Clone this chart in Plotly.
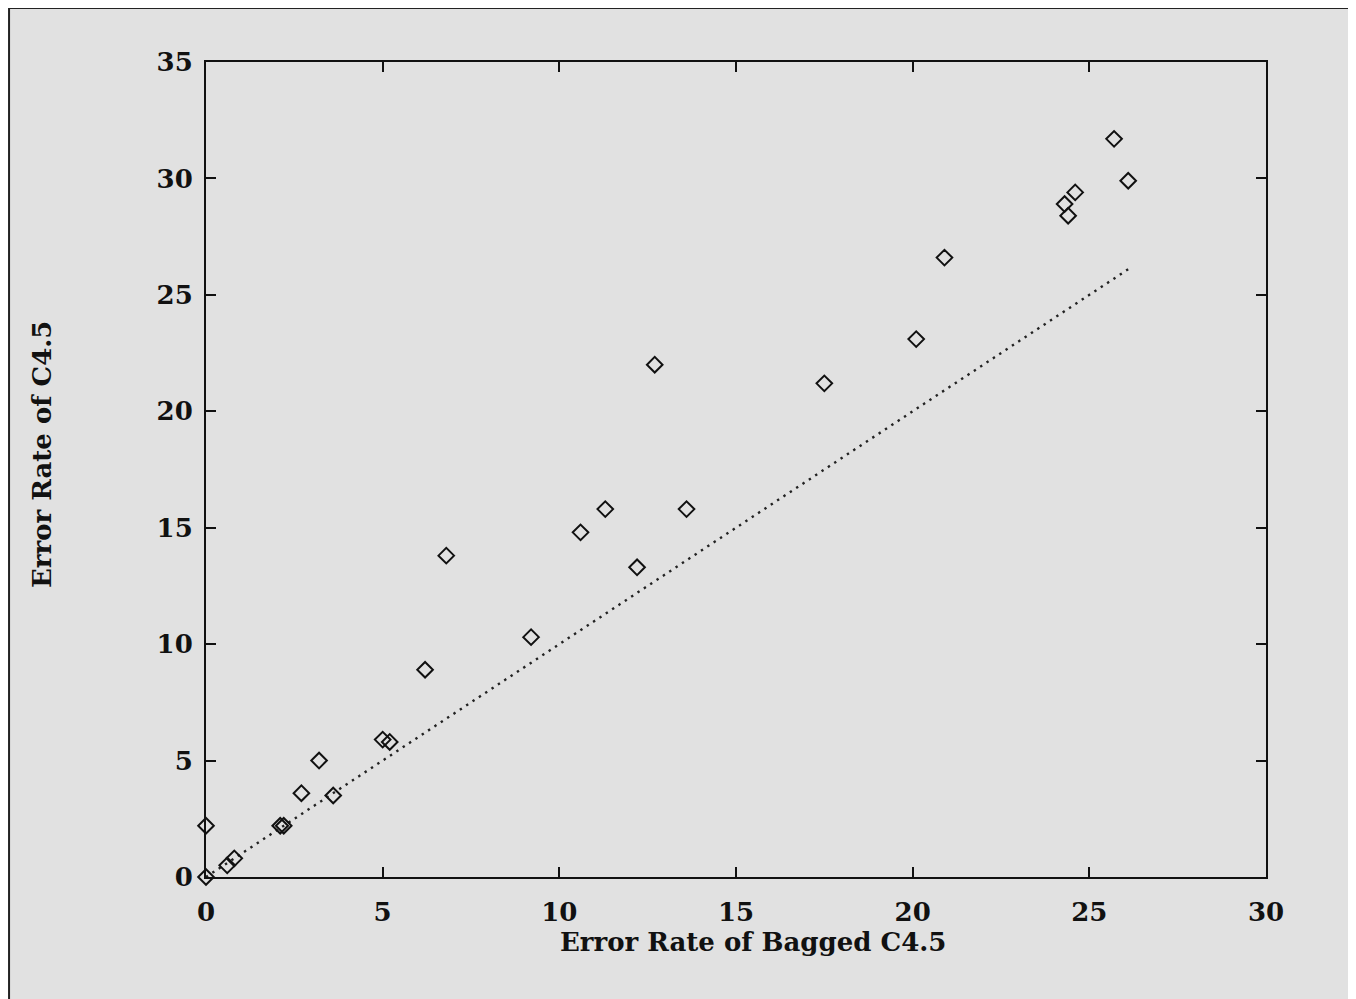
import plotly.graph_objects as go

bagged_c45 = [0.0, 0.0, 0.6, 0.8, 2.1, 2.2, 2.7, 3.2, 3.6, 5.0, 5.2, 6.2, 6.8, 9.2,
              10.6, 11.3, 12.2, 12.7, 13.6, 17.5, 20.1, 20.9, 24.3, 24.4, 24.6, 25.7, 26.1]
c45 = [2.2, 0.0, 0.5, 0.8, 2.2, 2.2, 3.6, 5.0, 3.5, 5.9, 5.8, 8.9, 13.8, 10.3,
       14.8, 15.8, 13.3, 22.0, 15.8, 21.2, 23.1, 26.6, 28.9, 28.4, 29.4, 31.7, 29.9]
diag_x = [0, 26.1]
diag_y = [0, 26.1]
x_ticks = [0, 5, 10, 15, 20, 25, 30]
y_ticks = [0, 5, 10, 15, 20, 25, 30, 35]

BG = "#e1e1e1"
FONT = "DejaVu Serif"
INK = "#111111"

fig = go.Figure()
fig.add_trace(go.Scatter(x=diag_x, y=diag_y, mode="lines",
                         line=dict(color="#222222", width=2.4, dash="2.4px,5.2px"),
                         showlegend=False, hoverinfo="skip"))
fig.add_trace(go.Scatter(x=bagged_c45, y=c45, mode="markers",
                         marker=dict(symbol="diamond-open", size=12, color=INK,
                                     line=dict(width=2, color=INK)),
                         cliponaxis=False, showlegend=False))

axis_common = dict(showline=True, linecolor=INK, linewidth=2, mirror="ticks",
                   ticks="inside", ticklen=10, tickwidth=1.8, tickcolor=INK,
                   showgrid=False, zeroline=False,
                   tickfont=dict(family=FONT, size=26, color=INK, weight="bold"))

fig.update_xaxes(range=[0, 30], tickvals=x_ticks, ticktext=[str(v) for v in x_ticks],
                 ticklabelstandoff=11, **axis_common)
fig.update_yaxes(range=[0, 35], tickvals=y_ticks, ticktext=[str(v) for v in y_ticks],
                 ticklabelstandoff=6, **axis_common)

fig.add_annotation(text="Error Rate of Bagged C4.5", xref="paper", yref="paper",
                   x=0.516, y=-0.0798, xanchor="center", yanchor="middle", showarrow=False,
                   font=dict(family=FONT, size=26, color=INK, weight="bold"))
fig.add_annotation(text="Error Rate of C4.5", xref="paper", yref="paper",
                   x=-0.1547, y=0.5178, xanchor="center", yanchor="middle", showarrow=False,
                   textangle=-90, font=dict(family=FONT, size=26, color=INK, weight="bold"))

# outer frame (left and top edges visible)
fig.add_shape(type="rect", xref="paper", yref="paper", x0=-0.1858, y0=-0.3, x1=1.3, y1=1.0663,
              line=dict(color="#222222", width=2), fillcolor="rgba(0,0,0,0)", layer="below")

fig.update_layout(width=1348, height=991, paper_bgcolor=BG, plot_bgcolor=BG,
                  margin=dict(l=198, r=90, t=54, b=122, autoexpand=False),
                  font=dict(family=FONT))

fig.write_html("out.html")
